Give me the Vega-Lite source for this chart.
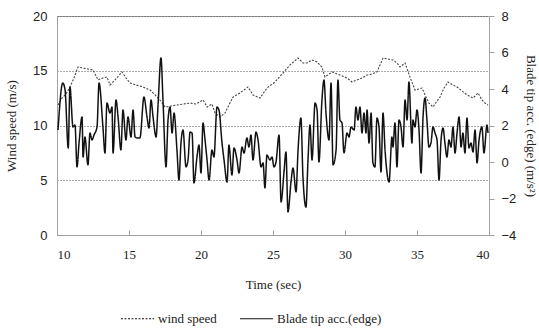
{
  "$schema": "https://vega.github.io/schema/vega-lite/v6.json",
  "width": 432,
  "height": 219,
  "autosize": {"type": "none"},
  "padding": {"left": 57, "top": 16, "right": 50, "bottom": 94},
  "background": "white",
  "config": {
    "view": {"stroke": "#a0a0a0", "strokeWidth": 1},
    "font": "Liberation Serif",
    "axis": {
      "domainColor": "#a0a0a0",
      "tickColor": "#a0a0a0",
      "labelColor": "#222",
      "titleColor": "#222",
      "titleFontWeight": "normal",
      "labelFontSize": 13,
      "titleFontSize": 13
    }
  },
  "datasets": {
    "wind": [
      {"t": 10.07, "ws": 11.87}, {"t": 10.35, "ws": 12.51}, {"t": 10.63, "ws": 12.88}, {"t": 10.9, "ws": 13.52},
      {"t": 11.18, "ws": 14.34}, {"t": 11.46, "ws": 15.34}, {"t": 11.81, "ws": 15.25}, {"t": 12.15, "ws": 15.16},
      {"t": 12.5, "ws": 15.07}, {"t": 12.85, "ws": 14.16}, {"t": 13.19, "ws": 14.34}, {"t": 13.47, "ws": 14.43},
      {"t": 13.68, "ws": 13.7}, {"t": 14.03, "ws": 14.16}, {"t": 14.51, "ws": 14.89}, {"t": 14.79, "ws": 14.34},
      {"t": 15.07, "ws": 13.88}, {"t": 15.49, "ws": 13.7}, {"t": 15.97, "ws": 13.52}, {"t": 16.46, "ws": 13.24},
      {"t": 16.81, "ws": 12.79}, {"t": 17.15, "ws": 12.33}, {"t": 17.5, "ws": 11.69}, {"t": 17.92, "ws": 11.78},
      {"t": 18.33, "ws": 11.87}, {"t": 18.75, "ws": 11.96}, {"t": 19.24, "ws": 12.05}, {"t": 19.65, "ws": 11.96},
      {"t": 20.14, "ws": 12.33}, {"t": 20.42, "ws": 11.69}, {"t": 20.76, "ws": 11.96}, {"t": 20.97, "ws": 11.14},
      {"t": 21.32, "ws": 10.78}, {"t": 21.67, "ws": 11.14}, {"t": 21.94, "ws": 11.87}, {"t": 22.22, "ws": 12.6},
      {"t": 22.71, "ws": 12.97}, {"t": 23.26, "ws": 13.52}, {"t": 23.61, "ws": 12.79}, {"t": 24.1, "ws": 12.51},
      {"t": 24.58, "ws": 13.42}, {"t": 25.14, "ws": 13.97}, {"t": 25.69, "ws": 14.79}, {"t": 26.18, "ws": 15.53},
      {"t": 26.74, "ws": 16.16}, {"t": 27.08, "ws": 15.71}, {"t": 27.36, "ws": 15.71}, {"t": 27.71, "ws": 15.98},
      {"t": 28.06, "ws": 15.8}, {"t": 28.4, "ws": 15.34}, {"t": 28.61, "ws": 14.43}, {"t": 29.1, "ws": 14.89},
      {"t": 29.65, "ws": 14.61}, {"t": 30.14, "ws": 14.34}, {"t": 30.49, "ws": 13.97}, {"t": 30.83, "ws": 14.16},
      {"t": 31.18, "ws": 14.34}, {"t": 31.53, "ws": 14.61}, {"t": 31.88, "ws": 14.7}, {"t": 32.22, "ws": 14.89},
      {"t": 32.64, "ws": 16.16}, {"t": 32.99, "ws": 16.07}, {"t": 33.33, "ws": 15.98}, {"t": 33.61, "ws": 15.71},
      {"t": 33.82, "ws": 15.34}, {"t": 34.17, "ws": 15.71}, {"t": 34.51, "ws": 14.43}, {"t": 34.86, "ws": 13.24},
      {"t": 35.35, "ws": 13.42}, {"t": 35.63, "ws": 12.6}, {"t": 35.83, "ws": 12.05}, {"t": 36.11, "ws": 11.69},
      {"t": 36.39, "ws": 12.24}, {"t": 36.6, "ws": 12.6}, {"t": 36.88, "ws": 13.42}, {"t": 37.15, "ws": 13.97},
      {"t": 37.5, "ws": 13.7}, {"t": 37.78, "ws": 13.52}, {"t": 38.13, "ws": 13.15}, {"t": 38.47, "ws": 12.79},
      {"t": 38.89, "ws": 12.51}, {"t": 39.24, "ws": 12.97}, {"t": 39.51, "ws": 12.33}, {"t": 39.72, "ws": 12.05},
      {"t": 39.93, "ws": 11.87}
    ],
    "acc": [
      {"t": 10.07, "a": 1.75}, {"t": 10.4, "a": 4.33}, {"t": 10.56, "a": 3.95}, {"t": 10.78, "a": 0.77},
      {"t": 10.9, "a": 4.11}, {"t": 11.11, "a": 1.92}, {"t": 11.25, "a": 2.03}, {"t": 11.39, "a": -0.27},
      {"t": 11.53, "a": 1.04}, {"t": 11.74, "a": 2.47}, {"t": 11.81, "a": 0.27}, {"t": 11.94, "a": 1.37},
      {"t": 12.15, "a": -0.16}, {"t": 12.29, "a": 1.59}, {"t": 12.43, "a": 1.21}, {"t": 12.57, "a": 1.48},
      {"t": 12.78, "a": 1.92}, {"t": 12.92, "a": 4.33}, {"t": 13.19, "a": 1.92}, {"t": 13.33, "a": 0.49},
      {"t": 13.47, "a": 3.23}, {"t": 13.68, "a": 2.68}, {"t": 13.82, "a": 3.01}, {"t": 13.89, "a": 0.49},
      {"t": 14.1, "a": 3.4}, {"t": 14.24, "a": 2.47}, {"t": 14.44, "a": 0.66}, {"t": 14.58, "a": 2.85},
      {"t": 14.79, "a": 1.21}, {"t": 14.93, "a": 2.47}, {"t": 15.14, "a": 1.37}, {"t": 15.28, "a": 2.85},
      {"t": 15.42, "a": 1.37}, {"t": 15.56, "a": 1.32}, {"t": 15.76, "a": 1.32}, {"t": 16.04, "a": 3.56},
      {"t": 16.25, "a": 2.47}, {"t": 16.39, "a": 1.86}, {"t": 16.53, "a": 3.4}, {"t": 16.67, "a": 2.47},
      {"t": 16.88, "a": 1.37}, {"t": 17.01, "a": 3.01}, {"t": 17.22, "a": 5.7}, {"t": 17.36, "a": 3.4},
      {"t": 17.57, "a": -0.27}, {"t": 17.71, "a": 2.3}, {"t": 17.85, "a": 3.01}, {"t": 17.99, "a": 1.59},
      {"t": 18.13, "a": 2.68}, {"t": 18.33, "a": 0.66}, {"t": 18.47, "a": -0.99}, {"t": 18.61, "a": 1.04},
      {"t": 18.75, "a": 1.75}, {"t": 18.96, "a": -0.27}, {"t": 19.1, "a": 0.11}, {"t": 19.24, "a": 1.64},
      {"t": 19.38, "a": 1.59}, {"t": 19.51, "a": -1.15}, {"t": 19.72, "a": 0.27}, {"t": 19.86, "a": 0.93},
      {"t": 20.0, "a": -0.6}, {"t": 20.14, "a": 2.14}, {"t": 20.28, "a": 1.21}, {"t": 20.42, "a": 0.11},
      {"t": 20.56, "a": -0.99}, {"t": 20.76, "a": 0.66}, {"t": 20.9, "a": 0.27}, {"t": 21.11, "a": 3.01},
      {"t": 21.25, "a": 2.85}, {"t": 21.46, "a": 1.04}, {"t": 21.6, "a": 0.11}, {"t": 21.81, "a": -1.1},
      {"t": 21.94, "a": 0.93}, {"t": 22.15, "a": -0.71}, {"t": 22.29, "a": 0.77}, {"t": 22.5, "a": 0.11},
      {"t": 22.64, "a": -0.6}, {"t": 22.85, "a": 0.82}, {"t": 22.99, "a": 0.49}, {"t": 23.19, "a": 1.32},
      {"t": 23.33, "a": 0.82}, {"t": 23.47, "a": 1.48}, {"t": 23.61, "a": 0.11}, {"t": 23.82, "a": 1.64},
      {"t": 23.96, "a": 1.21}, {"t": 24.17, "a": -0.27}, {"t": 24.31, "a": -0.05}, {"t": 24.44, "a": -1.42},
      {"t": 24.58, "a": 0.38}, {"t": 24.79, "a": 0.11}, {"t": 24.93, "a": 0.27}, {"t": 25.07, "a": -0.27},
      {"t": 25.21, "a": 0.0}, {"t": 25.42, "a": 1.48}, {"t": 25.56, "a": -2.19}, {"t": 25.76, "a": -0.6},
      {"t": 25.9, "a": 0.55}, {"t": 26.04, "a": -2.74}, {"t": 26.25, "a": -1.1}, {"t": 26.39, "a": -0.33},
      {"t": 26.6, "a": -1.64}, {"t": 26.74, "a": 0.66}, {"t": 26.94, "a": 2.41}, {"t": 27.08, "a": -0.82},
      {"t": 27.29, "a": -2.47}, {"t": 27.43, "a": 0.11}, {"t": 27.57, "a": 2.03}, {"t": 27.71, "a": 0.11},
      {"t": 27.92, "a": 3.23}, {"t": 28.06, "a": 2.85}, {"t": 28.19, "a": 0.0}, {"t": 28.4, "a": 3.4},
      {"t": 28.54, "a": 4.49}, {"t": 28.68, "a": 2.68}, {"t": 28.89, "a": 1.21}, {"t": 29.03, "a": 4.33},
      {"t": 29.17, "a": -0.16}, {"t": 29.38, "a": 0.66}, {"t": 29.51, "a": 4.49}, {"t": 29.65, "a": 2.3},
      {"t": 29.79, "a": 2.14}, {"t": 29.93, "a": 0.49}, {"t": 30.14, "a": 1.59}, {"t": 30.28, "a": 1.37},
      {"t": 30.42, "a": 1.92}, {"t": 30.63, "a": 1.75}, {"t": 30.76, "a": 3.01}, {"t": 30.9, "a": 2.3},
      {"t": 31.04, "a": 3.01}, {"t": 31.18, "a": 1.59}, {"t": 31.32, "a": 2.68}, {"t": 31.46, "a": 1.59},
      {"t": 31.53, "a": 2.85}, {"t": 31.67, "a": 1.04}, {"t": 31.81, "a": 2.68}, {"t": 31.94, "a": -0.05},
      {"t": 32.08, "a": -0.27}, {"t": 32.22, "a": 2.41}, {"t": 32.36, "a": 1.92}, {"t": 32.5, "a": -0.55},
      {"t": 32.64, "a": 2.68}, {"t": 32.78, "a": 0.66}, {"t": 32.92, "a": -0.6}, {"t": 33.06, "a": -1.1},
      {"t": 33.26, "a": 1.37}, {"t": 33.33, "a": 0.82}, {"t": 33.47, "a": 2.14}, {"t": 33.61, "a": -0.27},
      {"t": 33.75, "a": 2.3}, {"t": 33.89, "a": 1.92}, {"t": 34.03, "a": 0.82}, {"t": 34.17, "a": 3.4},
      {"t": 34.31, "a": 2.3}, {"t": 34.44, "a": 4.38}, {"t": 34.65, "a": 1.04}, {"t": 34.72, "a": 2.3},
      {"t": 34.86, "a": 1.92}, {"t": 35.0, "a": 2.85}, {"t": 35.14, "a": 1.75}, {"t": 35.28, "a": -0.6},
      {"t": 35.42, "a": 2.47}, {"t": 35.56, "a": 3.51}, {"t": 35.69, "a": 2.3}, {"t": 35.83, "a": 0.82},
      {"t": 35.97, "a": 1.04}, {"t": 36.11, "a": 1.92}, {"t": 36.25, "a": 1.59}, {"t": 36.39, "a": 1.21},
      {"t": 36.53, "a": -0.99}, {"t": 36.67, "a": 1.21}, {"t": 36.81, "a": 1.86}, {"t": 36.94, "a": 1.04},
      {"t": 37.08, "a": 0.27}, {"t": 37.22, "a": 1.21}, {"t": 37.36, "a": 0.82}, {"t": 37.5, "a": 1.92},
      {"t": 37.64, "a": 0.49}, {"t": 37.78, "a": 1.59}, {"t": 37.92, "a": 2.47}, {"t": 38.06, "a": 0.82},
      {"t": 38.19, "a": 1.59}, {"t": 38.33, "a": 0.49}, {"t": 38.47, "a": 2.41}, {"t": 38.61, "a": 0.77},
      {"t": 38.75, "a": 1.04}, {"t": 38.89, "a": 0.55}, {"t": 39.03, "a": 1.75}, {"t": 39.17, "a": -0.05},
      {"t": 39.31, "a": 1.21}, {"t": 39.51, "a": 1.92}, {"t": 39.65, "a": 0.49}, {"t": 39.86, "a": 2.03},
      {"t": 39.93, "a": 1.59}
    ]
  },
  "layer": [
    {
      "data": {"name": "wind"},
      "mark": {"type": "line", "color": "#444", "strokeWidth": 1.1},
      "encoding": {
        "x": {
          "field": "t", "type": "quantitative",
          "scale": {"domain": [10, 40], "nice": false},
          "axis": {
            "title": "Time (sec)",
            "values": [10, 15, 20, 25, 30, 35, 40],
            "grid": false,
            "tickSize": -5,
            "labelPadding": 18,
            "labelFont": "Liberation Serif",
            "titleFont": "Liberation Serif",
            "titlePadding": 17
          }
        },
        "y": {
          "field": "ws", "type": "quantitative",
          "scale": {"domain": [0, 20], "nice": false},
          "axis": {
            "orient": "left",
            "title": "Wind speed (m/s)",
            "values": [0, 5, 10, 15, 20],
            "grid": true,
            "gridDash": [1, 2],
            "gridColor": "#555",
            "ticks": false,
            "labelPadding": 10,
            "labelFont": "Liberation Sans",
            "titleFont": "Liberation Serif",
            "titlePadding": 14
          }
        },
        "strokeDash": {
          "datum": "wind speed",
          "scale": {"domain": ["wind speed", "Blade tip acc.(edge)"], "range": [[2, 1.5], [1, 0]]},
          "legend": {
            "orient": "none",
            "legendX": 63,
            "legendY": 285,
            "direction": "horizontal",
            "title": null,
            "symbolType": "stroke",
            "symbolSize": 1089,
            "symbolStrokeColor": "#222",
            "symbolStrokeWidth": 1.2,
            "labelFont": "Liberation Serif",
            "labelFontSize": 13,
            "labelColor": "#222",
            "labelOffset": 3,
            "columnPadding": 20
          }
        }
      }
    },
    {
      "data": {"name": "acc"},
      "mark": {"type": "line", "color": "#111", "strokeWidth": 1.5, "interpolate": "monotone"},
      "encoding": {
        "x": {"field": "t", "type": "quantitative"},
        "y": {
          "field": "a", "type": "quantitative",
          "scale": {"domain": [-4, 8], "nice": false},
          "axis": {
            "orient": "right",
            "title": "Blade tip acc. (edge)  (m/s²)",
            "values": [-4, -2, 0, 2, 4, 6, 8],
            "grid": false,
            "tickSize": 5,
            "labelPadding": 7,
            "labelFont": "Liberation Sans",
            "titleFont": "Liberation Serif",
            "titlePadding": 8
          }
        },
        "strokeDash": {"datum": "Blade tip acc.(edge)"}
      }
    }
  ],
  "resolve": {"scale": {"y": "independent"}}
}
